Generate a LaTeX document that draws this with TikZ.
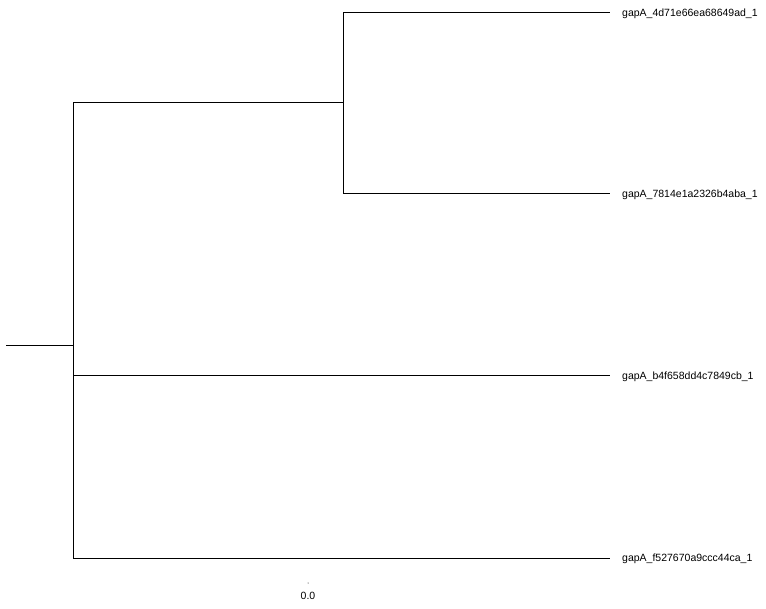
\documentclass[tikz,border=0pt]{standalone}
\usepackage{fontspec}
\setmainfont{Liberation Sans}
\begin{document}
\begin{tikzpicture}[x=1pt,y=-1pt,
  branch/.style={draw=black,line width=1pt},
  leaf/.style={anchor=west,inner sep=0pt,font=\fontsize{10.5}{12}\selectfont}]
\useasboundingbox (0,0) rectangle (766,609);
\coordinate (r0) at (6,346);
\coordinate (r) at (73,346);
\coordinate (ra) at (73,103);
\coordinate (rb) at (73,376);
\coordinate (rc) at (73,558);
\coordinate (a) at (343,103);
\coordinate (a1) at (343,13);
\coordinate (a2) at (343,194);
\coordinate (l1) at (610,13);
\coordinate (l2) at (610,194);
\coordinate (l3) at (610,376);
\coordinate (l4) at (610,558);
\node[leaf] (t1) at (622,14) {gapA\_4d71e66ea68649ad\_1};
\node[leaf] (t2) at (622,195) {gapA\_7814e1a2326b4aba\_1};
\node[leaf] (t3) at (622,377) {gapA\_b4f658dd4c7849cb\_1};
\node[leaf] (t4) at (622,559) {gapA\_f527670a9ccc44ca\_1};
\draw[branch] (r0) -- (r);
\draw[branch] (ra) -- (rc);
\draw[branch] (ra) -- (a);
\draw[branch] (a1) -- (a2);
\draw[branch] (a1) -- (l1);
\draw[branch] (a2) -- (l2);
\draw[branch] (rb) -- (l3);
\draw[branch] (rc) -- (l4);
\fill (308,583) circle (0.5);
\node[inner sep=0pt,font=\fontsize{10.5}{12}\selectfont] (s) at (308,596) {0.0};
\end{tikzpicture}
\end{document}
